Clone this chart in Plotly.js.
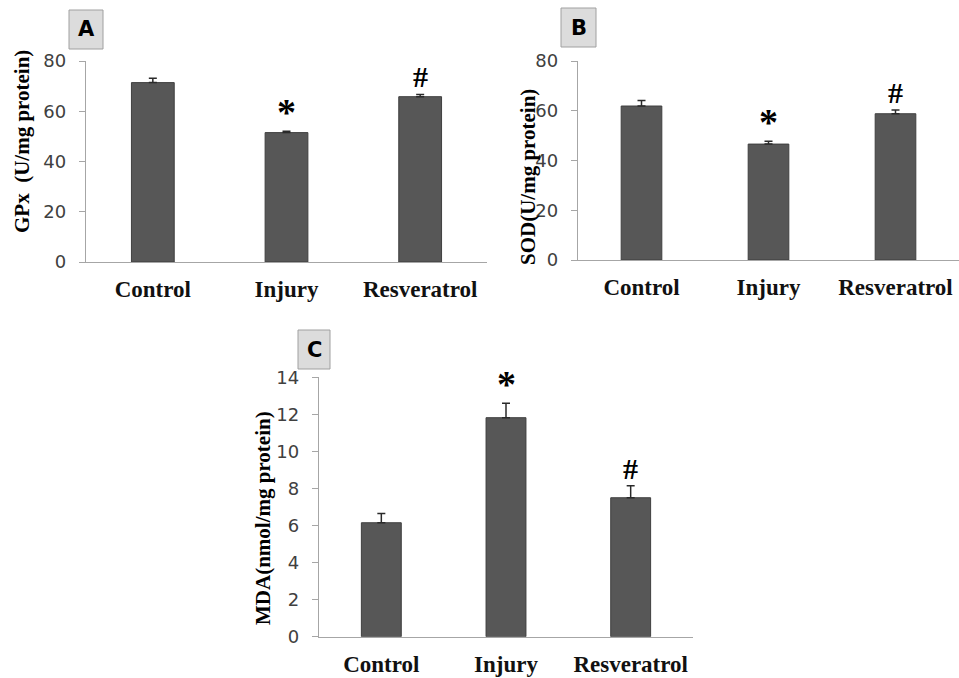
<!DOCTYPE html>
<html>
<head>
<meta charset="utf-8">
<script src="https://cdn.plot.ly/plotly-3.0.1.min.js"></script>
<style>html,body{margin:0;padding:0;background:#fff;}#chart{width:959px;height:678px;}</style>
</head>
<body>
<div id="chart"></div>
<script>
// ---- data ----
const categories = ["Control", "Injury", "Resveratrol"];
const gpxValues = [71.4, 51.5, 65.8];
const gpxErrors = [1.7, 0.5, 0.9];
const sodValues = [61.9, 46.6, 58.8];
const sodErrors = [2.2, 1.1, 1.5];
const mdaValues = [6.15, 11.82, 7.5];
const mdaErrors = [0.5, 0.78, 0.65];
const gpxTicks = [0, 20, 40, 60, 80];
const sodTicks = [0, 20, 40, 60, 80];
const mdaTicks = [0, 2, 4, 6, 8, 10, 12, 14];
const gpxMarks = ["", "*", "#"];
const sodMarks = ["", "*", "#"];
const mdaMarks = ["", "*", "#"];
const panelLabels = ["A", "B", "C"];
const yTitles = ["GPx  (U/mg protein)", "SOD(U/mg protein)", "MDA(nmol/mg protein)"];

const W = 959, H = 678;
const px = v => v / W;
const py = v => 1 - v / H;

const barColor = "#575757";
function barTrace(vals, errs, xa, ya) {
  return {
    type: "bar", x: categories, y: vals, xaxis: xa, yaxis: ya,
    marker: {color: barColor, line: {color: "#3f3f3f", width: 1}},
    error_y: {type: "data", array: errs, arrayminus: errs.map(() => 0), symmetric: false,
              color: "#2a2a2a", thickness: 1.5, width: 4},
    hoverinfo: "skip", showlegend: false
  };
}

const data = [
  barTrace(gpxValues, gpxErrors, "x", "y"),
  barTrace(sodValues, sodErrors, "x2", "y2"),
  barTrace(mdaValues, mdaErrors, "x3", "y3")
];

const axisLine = "#a6a6a6";
function xAxis(domain, anchor) {
  return {
    domain: domain, anchor: anchor, type: "category",
    showline: true, linecolor: axisLine, linewidth: 1.2, ticks: "", showgrid: false,
    zeroline: false, ticklabelstandoff: 6,
    tickfont: {family: "Liberation Serif", size: 23, color: "#111", weight: "bold"},
    fixedrange: true
  };
}
function yAxis(domain, anchor, range, ticks) {
  return {
    domain: domain, anchor: anchor, range: range, tickvals: ticks, ticktext: ticks.map(String),
    showline: true, linecolor: axisLine, linewidth: 1.2, ticks: "outside", ticklen: 6,
    tickcolor: axisLine, showgrid: false, zeroline: false, ticklabelstandoff: 9,
    tickfont: {family: "DejaVu Sans", size: 18, color: "#404040"}, fixedrange: true
  };
}

const layout = {
  width: W, height: H, margin: {l: 0, r: 0, t: 0, b: 0},
  paper_bgcolor: "#fff", plot_bgcolor: "rgba(0,0,0,0)",
  bargap: 0.68, showlegend: false,
  xaxis: xAxis([px(86), px(487)], "y"),
  yaxis: yAxis([py(262), py(61)], "x", [0, 80], gpxTicks),
  xaxis2: xAxis([px(578), px(959)], "y2"),
  yaxis2: yAxis([py(260), py(61)], "x2", [0, 80], sodTicks),
  xaxis3: xAxis([px(319), px(693)], "y3"),
  yaxis3: yAxis([py(636.7), py(377.3)], "x3", [0, 14], mdaTicks),
  shapes: [], annotations: []
};

// panel label boxes
const boxes = [[69, 10, 103, 49], [561, 8, 596, 47], [298, 330, 330, 369]];
boxes.forEach((b, i) => {
  layout.shapes.push({type: "rect", xref: "paper", yref: "paper",
    x0: px(b[0]), x1: px(b[2]), y0: py(b[3]), y1: py(b[1]),
    fillcolor: "#dcdcdc", line: {color: "#a0a0a0", width: 1}});
  layout.annotations.push({xref: "paper", yref: "paper", x: px((b[0] + b[2]) / 2), y: py((b[1] + b[3]) / 2),
    xanchor: "center", yanchor: "middle", showarrow: false, text: "<b>" + panelLabels[i] + "</b>",
    font: {family: "DejaVu Sans", size: 21, color: "#000"}});
});

// y titles
const titlePos = [[22, 142], [528, 177], [263, 518]];
titlePos.forEach((p, i) => {
  layout.annotations.push({xref: "paper", yref: "paper", x: px(p[0]), y: py(p[1]),
    xanchor: "center", yanchor: "middle", showarrow: false, textangle: -90,
    text: "<b>" + yTitles[i] + "</b>",
    font: {family: "Liberation Serif", size: 21, color: "#000"}});
});

// significance marks
function addMarks(marks, vals, errs, xr, yr) {
  marks.forEach((m, i) => {
    if (!m) return;
    const star = m === "*";
    layout.annotations.push({xref: xr, yref: yr, x: categories[i], y: vals[i] + errs[i],
      xanchor: "center", yanchor: "bottom", showarrow: false, text: "<b>" + m + "</b>",
      yshift: star ? -4 : -1,
      font: {family: "Liberation Serif", size: star ? 38 : 30, color: "#000"}});
  });
}
addMarks(gpxMarks, gpxValues, gpxErrors, "x", "y");
addMarks(sodMarks, sodValues, sodErrors, "x2", "y2");
addMarks(mdaMarks, mdaValues, mdaErrors, "x3", "y3");

Plotly.newPlot("chart", data, layout, {displayModeBar: false, staticPlot: true});
</script>
</body>
</html>
